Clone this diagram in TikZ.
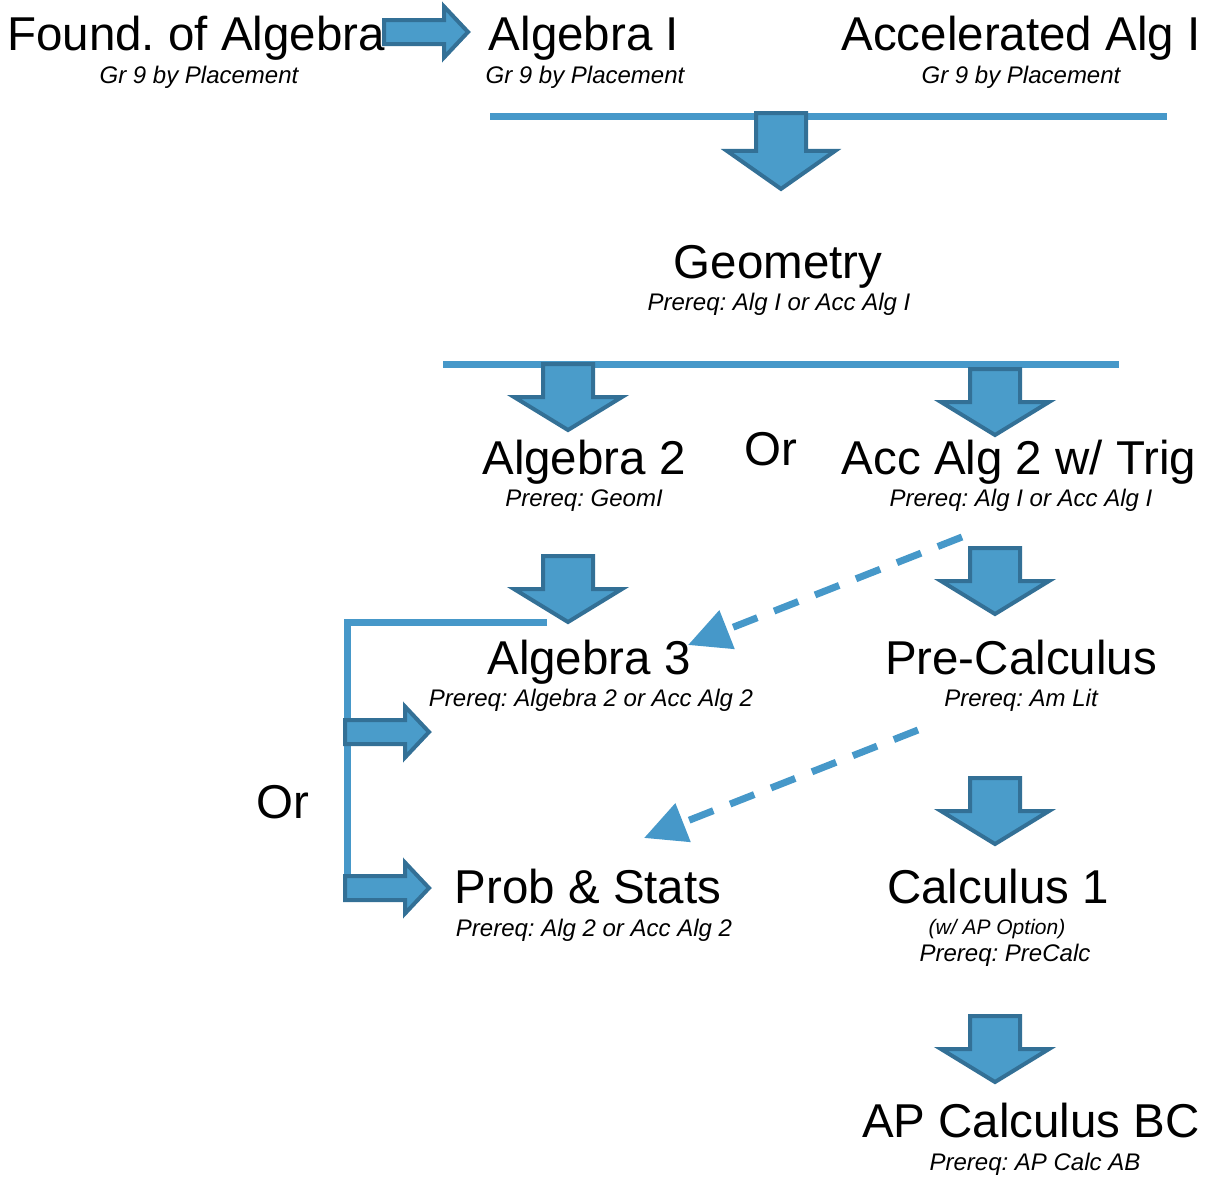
\documentclass[tikz,border=0pt]{standalone}
\usepackage{fontspec}
\setmainfont{Liberation Sans}
\usetikzlibrary{arrows.meta}
\definecolor{barblue}{RGB}{70,152,201}
\definecolor{fillblue}{RGB}{74,156,202}
\definecolor{edgeblue}{RGB}{51,112,150}
\frenchspacing

\begin{document}
\begin{tikzpicture}[
    x=1pt, y=-1pt,        % pixel-like grid, y grows downwards
    title/.style = {
        font = \fontsize{47.5}{50}\selectfont,
        anchor = base, inner sep = 0pt
    },
    prereq/.style = {
        font = \fontsize{24}{26}\selectfont\itshape,
        anchor = base, inner sep = 0pt
    },
    note/.style = {
        font = \fontsize{21}{24}\selectfont\itshape,
        anchor = base, inner sep = 0pt
    },
    bar/.style = {draw = barblue, line width = 7pt},
    blockarrow/.style = {fill = fillblue, draw = edgeblue, line width = 4pt},
    dasharrow/.style = {
        draw = barblue, line width = 7pt,
        dash pattern = on 26pt off 18pt,
        -{Triangle[length = 42pt, width = 40pt]}
    },
    fatdown/.pic = {
        \path[blockarrow] (-25,0) -- (25,0) -- (25,33) -- (54,33)
            -- (0,66) -- (-54,33) -- (-25,33) -- cycle;
    },
    fatright/.pic = {
        \path[blockarrow] (0,-12) -- (60,-12) -- (60,-25.5) -- (84,0)
            -- (60,25.5) -- (60,12) -- (0,12) -- cycle;
    }
]
\useasboundingbox (0,0) rectangle (1210,1178);

% --- Course titles (baseline placed) ---
\node[title]  (found)    at (196,50)   {Found. of Algebra};
\node[prereq] (foundsub) at (199,83.5) {Gr 9 by Placement};

\node[title]  (algone)    at (584,50)   {Algebra I};
\node[prereq] (algonesub) at (585,83.5) {Gr 9 by Placement};

\node[title]  (accone)    at (1021,50)   {Accelerated Alg I};
\node[prereq] (acconesub) at (1021,83.5) {Gr 9 by Placement};

\node[title]  (geom)    at (778,278)   {Geometry};
\node[prereq] (geomsub) at (779,310.5) {Prereq: Alg I or Acc Alg I};

\node[title]  (algtwo)    at (584,474)   {Algebra 2};
\node[prereq] (algtwosub) at (584,506.5) {Prereq: GeomI};

\node[title]  (ormid)     at (771,465)   {Or};

\node[title]  (acctwo)    at (1019,474)   {Acc Alg 2 w/ Trig};
\node[prereq] (acctwosub) at (1021,506.5) {Prereq: Alg I or Acc Alg I};

\node[title]  (algthree)    at (589,674)   {Algebra 3};
\node[prereq] (algthreesub) at (591,706.5) {Prereq: Algebra 2 or Acc Alg 2};

\node[title]  (precalc)    at (1021,674)   {Pre-Calculus};
\node[prereq] (precalcsub) at (1021,706.5) {Prereq: Am Lit};

\node[title]  (orleft)    at (283,818)   {Or};

\node[title]  (stats)    at (588,903)   {Prob \& Stats};
\node[prereq] (statssub) at (594,936.5) {Prereq: Alg 2 or Acc Alg 2};

\node[title]  (calcone)     at (998,903)   {Calculus 1};
\node[note]   (calconenote) at (997,934.5) {(w/ AP Option)};
\node[prereq] (calconesub)  at (1005,961.5) {Prereq: PreCalc};

\node[title]  (apbc)    at (1031,1137)   {AP Calculus BC};
\node[prereq] (apbcsub) at (1035,1170.5) {Prereq: AP Calc AB};

% --- Bars and bracket ---
\draw[bar] (490,116) -- (1167,116);
\draw[bar] (443,364) -- (1119,364);

\coordinate (brtop) at (547,622);
\coordinate (brbot) at (347,900);
\draw[bar] (brtop) -| (brbot);

% --- Block arrows ---
\pic at (384,32) {fatright};
\pic[yscale=1.15] at (781,113) {fatdown};
\pic at (568,364) {fatdown};
\pic at (995,369) {fatdown};
\pic at (568,556) {fatdown};
\pic at (995,548) {fatdown};
\pic at (995,778) {fatdown};
\pic at (995,1016) {fatdown};
\pic at (345,732) {fatright};
\pic at (345,888) {fatright};

% --- Dashed arrows ---
\coordinate (dashA) at (962,537);
\coordinate (dashB) at (688,645);
\coordinate (dashC) at (918,730);
\coordinate (dashD) at (644,838);
\draw[dasharrow] (dashA) -- (dashB);
\draw[dasharrow] (dashC) -- (dashD);

\end{tikzpicture}
\end{document}
